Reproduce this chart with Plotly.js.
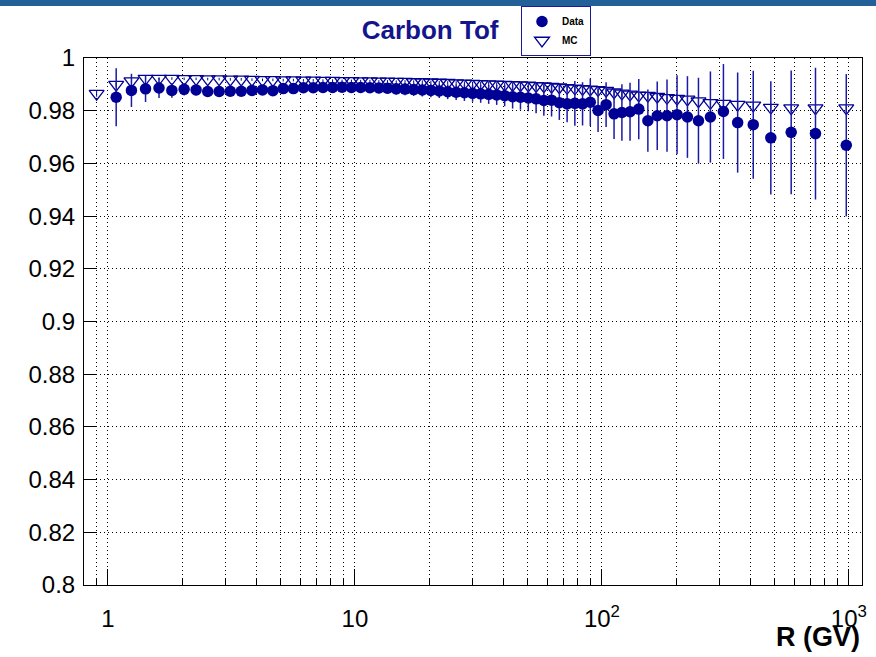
<!DOCTYPE html>
<html>
<head>
<meta charset="utf-8">
<script src="https://cdn.plot.ly/plotly-3.0.1.min.js"></script>
<style>
  html, body { margin: 0; padding: 0; background: #fff; }
  #wrap { position: relative; width: 876px; height: 657px; }
  #topbar { position: absolute; left: 0; top: 0; width: 876px; height: 6px; background: #23609a; z-index: 5; }
  #chart { position: absolute; left: 0; top: 0; width: 876px; height: 657px; }
</style>
</head>
<body>
<div id="wrap"><div id="topbar"></div><div id="chart"></div></div>
<script>
// Rigidity bin centres (GV)
const mcR = [0.9, 1.08, 1.245, 1.42, 1.61, 1.815, 2.035, 2.275, 2.535, 2.82, 3.13, 3.465, 3.83, 4.225, 4.655,
  5.125, 5.635, 6.185, 6.78, 7.425, 8.12, 8.87, 9.68, 10.55, 11.5, 12.5, 13.55, 14.7, 15.95, 17.3, 18.75,
  20.3, 21.95, 23.75, 25.7, 27.75, 29.95, 32.3, 34.8, 37.5, 40.4, 43.5, 46.8, 50.35, 54.15, 58.2, 62.55,
  67.25, 72.3, 77.7, 83.5, 89.75, 96.5, 104, 112, 120.5, 130, 141, 153.5, 167.5, 183.5, 201.5, 222, 246,
  275, 310.5, 354.5, 410, 483, 584, 732.5, 976];
const dataR = [1.08, 1.245, 1.42, 1.61, 1.815, 2.035, 2.275, 2.535, 2.82, 3.13, 3.465, 3.83, 4.225, 4.655,
  5.125, 5.635, 6.185, 6.78, 7.425, 8.12, 8.87, 9.68, 10.55, 11.5, 12.5, 13.55, 14.7, 15.95, 17.3, 18.75,
  20.3, 21.95, 23.75, 25.7, 27.75, 29.95, 32.3, 34.8, 37.5, 40.4, 43.5, 46.8, 50.35, 54.15, 58.2, 62.55,
  67.25, 72.3, 77.7, 83.5, 89.75, 96.5, 104, 112, 120.5, 130, 141, 153.5, 167.5, 183.5, 201.5, 222, 246,
  275, 310.5, 354.5, 410, 483, 584, 732.5, 976];

// Data efficiency and errors
const dataEff = [0.9851, 0.9877, 0.9883, 0.9886, 0.9877, 0.9881, 0.9879, 0.9873, 0.9873, 0.9874, 0.9874,
  0.9877, 0.9879, 0.9876, 0.9884, 0.9884, 0.9887, 0.9887, 0.9888, 0.9888, 0.9889, 0.9888, 0.9888, 0.9887,
  0.9886, 0.9885, 0.9883, 0.9882, 0.9880, 0.9879, 0.9877, 0.9875, 0.9872, 0.9870, 0.9868, 0.9866, 0.9864,
  0.9862, 0.9860, 0.9857, 0.9853, 0.9851, 0.9848, 0.9845, 0.9839, 0.9840, 0.9830, 0.9826, 0.9828, 0.9826,
  0.9832, 0.9801, 0.9823, 0.9788, 0.9793, 0.9796, 0.9806, 0.9762, 0.9781, 0.9781, 0.9785, 0.9776, 0.9762,
  0.9776, 0.9797, 0.9755, 0.9747, 0.9697, 0.9718, 0.9713, 0.9669];
const dataErr = [0.011, 0.0063, 0.005, 0.0038, 0.0028, 0.0023, 0.002, 0.0018, 0.0016, 0.0015, 0.0014,
  0.0014, 0.0014, 0.0014, 0.0014, 0.0014, 0.0014, 0.0015, 0.0015, 0.0016, 0.0016, 0.0017, 0.0018, 0.0019,
  0.0020, 0.0021, 0.0022, 0.0023, 0.0024, 0.0025, 0.0026, 0.0027, 0.0028, 0.0029, 0.0031, 0.0032, 0.0034,
  0.0036, 0.0038, 0.0040, 0.0045, 0.0047, 0.0050, 0.0055, 0.0058, 0.0062, 0.0065, 0.0070, 0.0085, 0.0082,
  0.0090, 0.0082, 0.0085, 0.0095, 0.0107, 0.0110, 0.0114, 0.0118, 0.0130, 0.0137, 0.0150, 0.0155, 0.0163,
  0.0173, 0.0180, 0.0190, 0.0205, 0.0215, 0.0235, 0.0250, 0.0270];

// MC efficiency and errors
const mcEff = [0.9865, 0.9899, 0.9912, 0.9922, 0.9922, 0.9922, 0.9921, 0.9921, 0.9920, 0.9920, 0.9919,
  0.9919, 0.9918, 0.9917, 0.9917, 0.9916, 0.9916, 0.9915, 0.9915, 0.9914, 0.9914, 0.9913, 0.9913, 0.9912,
  0.9912, 0.9911, 0.9911, 0.9910, 0.9910, 0.9909, 0.9909, 0.9908, 0.9907, 0.9906, 0.9905, 0.9904, 0.9903,
  0.9902, 0.9901, 0.9900, 0.9899, 0.9898, 0.9897, 0.9896, 0.9894, 0.9893, 0.9891, 0.9889, 0.9887, 0.9885,
  0.9883, 0.9881, 0.9879, 0.9876, 0.9870, 0.9866, 0.9862, 0.9858, 0.9857, 0.9853, 0.9849, 0.9846, 0.9843,
  0.9836, 0.9830, 0.9827, 0.9823, 0.9820, 0.9812, 0.9810, 0.9810, 0.9810];
const mcErr = [0.0012, 0.0008, 0.0006, 0.0005, 0.0005, 0.0005, 0.0005, 0.0005, 0.0005, 0.0005, 0.0005,
  0.0005, 0.0005, 0.0005, 0.0005, 0.0005, 0.0005, 0.0005, 0.0005, 0.0005, 0.0005, 0.0005, 0.0005, 0.0005,
  0.0005, 0.0005, 0.0005, 0.0005, 0.0006, 0.0006, 0.0006, 0.0006, 0.0006, 0.0006, 0.0007, 0.0007, 0.0007,
  0.0007, 0.0008, 0.0008, 0.0008, 0.0009, 0.0009, 0.0009, 0.0010, 0.0010, 0.0010, 0.0011, 0.0011, 0.0012,
  0.0012, 0.0012, 0.0013, 0.0013, 0.0013, 0.0014, 0.0014, 0.0014, 0.0015, 0.0015, 0.0015, 0.0015, 0.0015,
  0.0015, 0.0015, 0.0015, 0.0015, 0.0015, 0.0015, 0.0015, 0.0015, 0.0015];

const xTickVals = [1, 10, 100, 1000];
const xTickText = ['1', '10', '10<sup>2</sup>', '10<sup>3</sup>'];
const yTickVals = [0.8, 0.82, 0.84, 0.86, 0.88, 0.9, 0.92, 0.94, 0.96, 0.98, 1];
const yTickText = ['0.8', '0.82', '0.84', '0.86', '0.88', '0.9', '0.92', '0.94', '0.96', '0.98', '1'];

const FONT = 'Liberation Sans, Arial, Helvetica, sans-serif';
const NAVY = '#000095';
const DOT = '1px,3px';

const traces = [
  {
    name: 'MC', x: mcR, y: mcEff, type: 'scatter', mode: 'markers',
    marker: { symbol: 'triangle-down-open', size: 13, color: NAVY, line: { color: NAVY, width: 1.3 } },
    error_y: { type: 'data', array: mcErr, visible: true, color: NAVY, thickness: 1, width: 0 }
  },
  {
    name: 'Data', x: dataR, y: dataEff, type: 'scatter', mode: 'markers',
    marker: { symbol: 'circle', size: 11.5, color: NAVY },
    error_y: { type: 'data', array: dataErr, visible: true, color: '#1a1aa6', thickness: 1.5, width: 0 }
  }
];

const layout = {
  width: 876, height: 657,
  margin: { l: 84, r: 14, t: 58, b: 72, pad: 0, autoexpand: false },
  paper_bgcolor: '#fff', plot_bgcolor: '#fff',
  font: { family: FONT, color: '#000' },
  title: {
    text: 'Carbon Tof', xref: 'container', yref: 'container',
    x: 0.491, xanchor: 'center', y: 0.954, yanchor: 'middle',
    font: { family: FONT, size: 26, weight: 'bold', color: '#14148c' }
  },
  showlegend: true,
  legend: {
    x: 0.5617, y: 1.0987, xanchor: 'left', yanchor: 'top',
    bgcolor: '#fff', bordercolor: '#1a1a9a', borderwidth: 1,
    traceorder: 'reversed', itemwidth: 30, tracegroupgap: 0,
    font: { family: FONT, size: 10, weight: 'bold', color: '#000' }
  },
  xaxis: {
    type: 'log', range: [-0.0969, 3.0531],
    tickmode: 'array', tickvals: xTickVals, ticktext: xTickText,
    ticks: 'inside', ticklen: 16, tickwidth: 1, tickcolor: '#000',
    showline: true, linecolor: '#000', linewidth: 1, mirror: true,
    showgrid: true, gridcolor: '#000', gridwidth: 1, griddash: DOT,
    zeroline: false, ticklabelstandoff: 12,
    tickfont: { family: FONT, size: 24, color: '#000' },
    minor: { dtick: 'D1', ticks: 'inside', ticklen: 7, tickwidth: 1, tickcolor: '#000',
      showgrid: true, gridcolor: '#000', gridwidth: 1, griddash: DOT }
  },
  yaxis: {
    range: [0.8, 1],
    tickmode: 'array', tickvals: yTickVals, ticktext: yTickText,
    ticks: 'inside', ticklen: 13, tickwidth: 1, tickcolor: '#000',
    showline: true, linecolor: '#000', linewidth: 1, mirror: true,
    showgrid: true, gridcolor: '#000', gridwidth: 1, griddash: DOT,
    zeroline: false, ticklabelstandoff: 3,
    tickfont: { family: FONT, size: 24, color: '#000' }
  },
  annotations: [
    { text: '<b>R (GV)</b>', xref: 'paper', yref: 'paper', x: 1, y: -0.0986,
      xanchor: 'right', yanchor: 'middle', showarrow: false,
      font: { family: FONT, size: 27, color: '#000' } }
  ]
};

Plotly.newPlot('chart', traces, layout, { displayModeBar: false, staticPlot: true });
</script>
</body>
</html>
